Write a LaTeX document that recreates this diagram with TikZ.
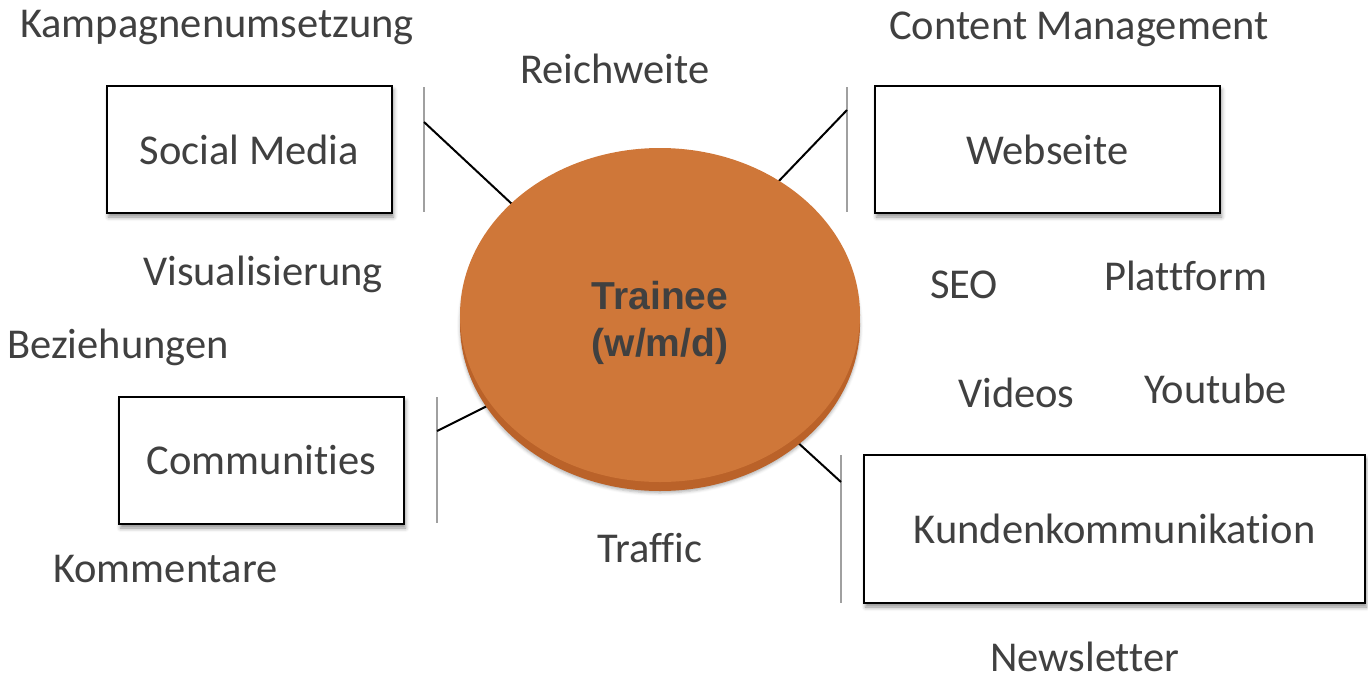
\documentclass[tikz,border=0pt]{standalone}
\usepackage{fontspec}
\setmainfont[Ligatures=CommonOff]{Carlito}
\newfontfamily\boldsans{Liberation Sans}
\usetikzlibrary{shadows.blur,shapes.geometric}
\definecolor{txt}{HTML}{404040}
\definecolor{orangemain}{HTML}{CF7739}
\definecolor{orangeshadow}{HTML}{BA6229}
\definecolor{bracketgray}{HTML}{A0A0A0}
\tikzset{
  lbl/.style={anchor=base west, inner sep=0pt, text=txt, font=\fontsize{42.5}{50}\selectfont},
  boxnode/.style={draw=black, line width=2pt, fill=white, text=txt, inner sep=0pt,
    font=\fontsize{42.5}{50}\selectfont,
    blur shadow={shadow xshift=1.5pt, shadow yshift=-4pt, shadow blur radius=4pt, shadow opacity=45}},
  bracket/.style={draw=bracketgray, line width=2pt},
  conn/.style={draw=black, line width=2pt},
}
\begin{document}
\begin{tikzpicture}[x=1pt,y=-1pt]
\useasboundingbox (0,0) rectangle (1368,681);

% brackets (gray vertical lines)
\coordinate (smT) at (424,87);  \coordinate (smB) at (424,212); \coordinate (smC) at (424,122);
\coordinate (wsT) at (847,87);  \coordinate (wsB) at (847,212); \coordinate (wsC) at (847,110);
\coordinate (coT) at (437,397); \coordinate (coB) at (437,523); \coordinate (coC) at (437,431);
\coordinate (kkT) at (841,455); \coordinate (kkB) at (841,603); \coordinate (kkC) at (841,482);
\draw[bracket] (smT) -- (smB);
\draw[bracket] (wsT) -- (wsB);
\draw[bracket] (coT) -- (coB);
\draw[bracket] (kkT) -- (kkB);

% contact points on the ellipse
\coordinate (eSM) at (513,205);
\coordinate (eWS) at (777,183);
\coordinate (eCO) at (489,405);
\coordinate (eKK) at (795,440);
\draw[conn] (smC) -- (eSM);
\draw[conn] (wsC) -- (eWS);
\draw[conn] (coC) -- (eCO);
\draw[conn] (kkC) -- (eKK);

% central ellipse
\node[ellipse, fill=orangeshadow, minimum width=400pt, minimum height=334pt, inner sep=0pt,
  blur shadow={shadow xshift=0pt, shadow yshift=-2pt, shadow blur radius=3pt, shadow opacity=30}]
  (traineeshadow) at (660,324) {};
\node[ellipse, fill=orangemain, minimum width=400pt, minimum height=334pt, inner sep=0pt]
  (traineebg) at (660,315) {};
\node[inner sep=0pt, align=center, text=txt,
  font=\boldsans\bfseries\fontsize{39}{47}\selectfont] (trainee) at (660,323) {Trainee\\(w/m/d)};

% boxes
\node[boxnode, minimum width=285pt, minimum height=127pt] (sm) at (249.5,149.5) {Social Media};
\node[boxnode, minimum width=345pt, minimum height=127pt] (ws) at (1047.5,149.5) {Webseite};
\node[boxnode, minimum width=285pt, minimum height=127pt] (co) at (261.5,460.5) {Communities};
\node[boxnode, minimum width=501pt, minimum height=148pt] (kk) at (1114.5,529) {Kundenkommunikation};

% free labels
\node[lbl] (kampagne) at (20,37) {Kampagnenumsetzung};
\node[lbl] (reichweite) at (520,83) {Reichweite};
\node[lbl] (content) at (889,39) {Content Management};
\node[lbl] (visual) at (143,285) {Visualisierung};
\node[lbl] (bez) at (7,358) {Beziehungen};
\node[lbl] (seo) at (930,298) {SEO};
\node[lbl] (platt) at (1104,290) {Plattform};
\node[lbl] (videos) at (958,407) {Videos};
\node[lbl] (yt) at (1144,403) {Youtube};
\node[lbl] (komm) at (53,582) {Kommentare};
\node[lbl] (traffic) at (597,562) {Traffic};
\node[lbl] (news) at (990,671) {Newsletter};
\end{tikzpicture}
\end{document}
